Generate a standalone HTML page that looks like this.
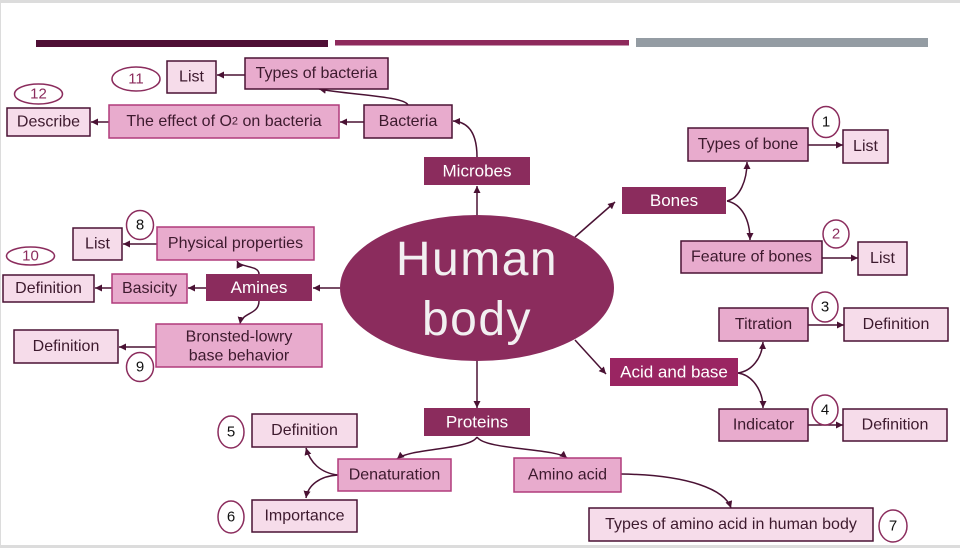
<!DOCTYPE html>
<html><head><meta charset="utf-8"><style>
html,body{margin:0;padding:0;background:#fff;}
svg{display:block;}
text{font-family:"Liberation Sans",sans-serif;}
</style></head><body>
<svg width="960" height="548" viewBox="0 0 960 548" xmlns="http://www.w3.org/2000/svg">
<defs>
<marker id="a" markerUnits="userSpaceOnUse" markerWidth="8" markerHeight="8" refX="7" refY="3.5" orient="auto">
<path d="M0,0 L7,3.5 L0,7 z" fill="#4a1234"/>
</marker>
</defs>
<rect x="0" y="0" width="960" height="548" fill="#fff"/>
<rect x="0" y="0" width="960" height="3" fill="#dcdcdc"/>
<rect x="0" y="0" width="1" height="548" fill="#dcdcdc"/>
<rect x="0" y="545" width="960" height="3" fill="#dcdcdc"/>
<!-- top bars -->
<rect x="36" y="40" width="292" height="7" fill="#4f0f35"/>
<rect x="335" y="40" width="294" height="5.5" fill="#8e2a5c"/>
<rect x="636" y="38" width="292" height="9" fill="#949ca3"/>

<!-- connectors -->
<g fill="none" stroke="#4a1234" stroke-width="1.5" marker-end="url(#a)">
<path d="M245,75 L217,75"/>
<path d="M408,105 C404,96 350,95 319,89"/>
<path d="M364,122 L340,122"/>
<path d="M109,122 L91,122"/>
<path d="M477,157 C477,135 470,122 453,121"/>
<path d="M477,215 L477,186"/>
<path d="M575,237 L615,202"/>
<path d="M575,340 L606,374"/>
<path d="M477,361 L477,408"/>
<path d="M340,288 L313,288"/>
<path d="M206,288 L188,288"/>
<path d="M112,288 L95,288"/>
<path d="M157,244 L123,244"/>
<path d="M259,274 C259,265 240,268 237,261"/>
<path d="M259,301 C259,315 242,312 240,324"/>
<path d="M156,347 L119,347"/>
<path d="M727,201 C740,198 747,180 747,162"/>
<path d="M727,201 C742,204 750,220 750,240"/>
<path d="M808,145 L843,145"/>
<path d="M822,258 L858,258"/>
<path d="M738,373 C752,371 762,358 763,342"/>
<path d="M738,373 C752,375 763,390 763,408"/>
<path d="M808,325 L844,325"/>
<path d="M806,425 L843,425"/>
<path d="M477,437 C470,450 410,448 397,459"/>
<path d="M477,437 C485,450 555,448 567,458"/>
<path d="M338,475 C320,473 310,462 306,448"/>
<path d="M338,475 C320,476 308,485 306,498"/>
<path d="M621,474 C690,475 725,490 731,508"/>
</g>

<!-- central ellipse -->
<ellipse cx="477" cy="288" rx="137" ry="73" fill="#8b2c5d"/>
<text x="477" y="275" fill="#f2f0f1" font-size="48" text-anchor="middle" letter-spacing="1.5">Human</text>
<text x="477" y="335" fill="#f2f0f1" font-size="48" text-anchor="middle" letter-spacing="1.5">body</text>

<!-- dark category boxes -->
<g fill="#8b2c5d">
<rect x="424" y="157" width="106" height="28"/>
<rect x="622" y="187" width="104" height="27"/>
<rect x="610" y="358" width="128" height="28" fill="#9a2562"/>
<rect x="424" y="408" width="106" height="28"/>
<rect x="206" y="274" width="106" height="27"/>
</g>
<g fill="#fff" font-size="17" text-anchor="middle" dominant-baseline="central">
<text x="477" y="171">Microbes</text>
<text x="674" y="200.5">Bones</text>
<text x="674" y="372">Acid and base</text>
<text x="477" y="422">Proteins</text>
<text x="259" y="287.5">Amines</text>
</g>

<!-- medium pink boxes -->
<g fill="#e8abcd" stroke="#4a1234" stroke-width="1.5">
<rect x="245" y="58" width="143" height="31"/>
<rect x="109" y="105" width="230" height="33" stroke="#b03b7b"/>
<rect x="364" y="105" width="88" height="33"/>
<rect x="157" y="227" width="157" height="33" stroke="#b03b7b"/>
<rect x="112" y="274" width="75" height="29" stroke="#b03b7b"/>
<rect x="156" y="324" width="166" height="43" stroke="#b03b7b"/>
<rect x="688" y="128" width="120" height="33"/>
<rect x="681" y="241" width="141" height="32"/>
<rect x="719" y="308" width="89" height="33"/>
<rect x="719" y="409" width="89" height="32"/>
<rect x="338" y="459" width="113" height="32" stroke="#b03b7b"/>
<rect x="514" y="458" width="107" height="34" stroke="#b03b7b"/>
</g>
<!-- light pink boxes -->
<g fill="#f6dcea" stroke="#4a1234" stroke-width="1.5">
<rect x="167" y="61" width="49" height="32"/>
<rect x="7" y="108" width="83" height="28"/>
<rect x="73" y="228" width="49" height="32"/>
<rect x="3" y="275" width="91" height="27"/>
<rect x="14" y="330" width="104" height="33"/>
<rect x="843" y="130" width="45" height="33"/>
<rect x="858" y="242" width="49" height="33"/>
<rect x="844" y="308" width="104" height="33"/>
<rect x="843" y="409" width="104" height="32"/>
<rect x="252" y="414" width="105" height="33"/>
<rect x="252" y="500" width="105" height="32"/>
<rect x="589" y="508" width="284" height="33"/>
</g>

<!-- box labels -->
<g fill="#3d1a2e" font-size="16" text-anchor="middle" dominant-baseline="central">
<text x="316.5" y="73.5">Types of bacteria</text>
<text x="224" y="121.5">The effect of O<tspan font-size="11">2</tspan> on bacteria</text>
<text x="408" y="121.5">Bacteria</text>
<text x="235.5" y="243.5">Physical properties</text>
<text x="149.5" y="288.5">Basicity</text>
<text x="239" y="337">Bronsted-lowry</text>
<text x="239" y="356">base behavior</text>
<text x="748" y="144.5">Types of bone</text>
<text x="751.5" y="257">Feature of bones</text>
<text x="763.5" y="324.5">Titration</text>
<text x="763.5" y="425">Indicator</text>
<text x="394.5" y="475">Denaturation</text>
<text x="567.5" y="475">Amino acid</text>
<text x="191.5" y="77">List</text>
<text x="48.5" y="122">Describe</text>
<text x="97.5" y="244">List</text>
<text x="48.5" y="288.5">Definition</text>
<text x="66" y="346.5">Definition</text>
<text x="865.5" y="146.5">List</text>
<text x="882.5" y="258.5">List</text>
<text x="896" y="324.5">Definition</text>
<text x="895" y="425">Definition</text>
<text x="304.5" y="430.5">Definition</text>
<text x="304.5" y="516">Importance</text>
<text x="731" y="524.5">Types of amino acid in human body</text>
</g>

<!-- number badges -->
<g fill="#fff" stroke="#8b2c5d" stroke-width="1.5">
<ellipse cx="136" cy="79" rx="24" ry="12"/>
<ellipse cx="38.5" cy="94" rx="24" ry="10"/>
<ellipse cx="30.5" cy="256" rx="24" ry="9"/>
<ellipse cx="140" cy="225" rx="13.5" ry="14.5"/>
<ellipse cx="140" cy="367" rx="13.5" ry="14.5"/>
<ellipse cx="826" cy="122" rx="13.5" ry="15.5"/>
<ellipse cx="836" cy="234" rx="13" ry="14"/>
<ellipse cx="825" cy="307" rx="13" ry="15"/>
<ellipse cx="825" cy="410" rx="13" ry="15"/>
<ellipse cx="231" cy="432" rx="13" ry="16"/>
<ellipse cx="231" cy="517" rx="13" ry="16"/>
<ellipse cx="893" cy="526" rx="14" ry="16"/>
</g>
<g font-size="15" text-anchor="middle" dominant-baseline="central" fill="#111">
<text x="136" y="79" fill="#8b2c5d">11</text>
<text x="38.5" y="94" fill="#8b2c5d">12</text>
<text x="30.5" y="256" fill="#8b2c5d">10</text>
<text x="140" y="225">8</text>
<text x="140" y="367">9</text>
<text x="826" y="122">1</text>
<text x="836" y="234" fill="#8b2c5d">2</text>
<text x="825" y="307">3</text>
<text x="825" y="410">4</text>
<text x="231" y="432">5</text>
<text x="231" y="517">6</text>
<text x="893" y="526">7</text>
</g>
</svg>
</body></html>
